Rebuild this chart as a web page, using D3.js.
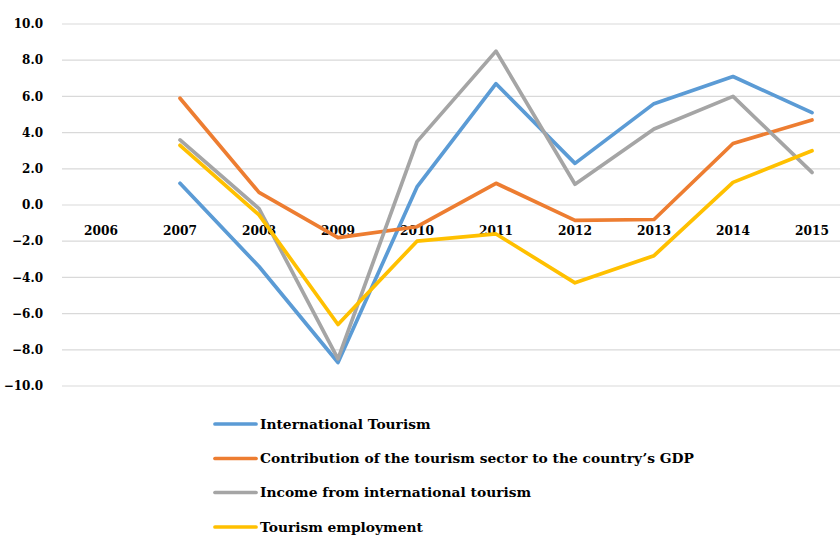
<!DOCTYPE html>
<html>
<head>
<meta charset="utf-8">
<script src="https://cdn.jsdelivr.net/npm/d3@7"></script>
<style>
  body { margin: 0; background: #fff; }
  svg text { font-family: "DejaVu Serif", "Liberation Serif", serif; font-weight: bold; fill: #000; }
</style>
</head>
<body>
<div id="chart"></div>
<script>
const years = ["2006", "2007", "2008", "2009", "2010", "2011", "2012", "2013", "2014", "2015"];
const yTicks = [-10, -8, -6, -4, -2, 0, 2, 4, 6, 8, 10];

const seriesNames = [
  "International Tourism",
  "Contribution of the tourism sector to the country\u2019s GDP",
  "Income from international tourism",
  "Tourism employment"
];
// null = no value for that year
const intlTourism   = [null, 1.2, -3.4, -8.7, 1.0, 6.7, 2.3, 5.6, 7.1, 5.1];
const gdpContrib    = [null, 5.9, 0.7, -1.8, -1.2, 1.2, -0.85, -0.8, 3.4, 4.7];
const intlIncome    = [null, 3.6, -0.2, -8.5, 3.5, 8.5, 1.15, 4.2, 6.0, 1.8];
const employment    = [null, 3.3, -0.55, -6.6, -2.0, -1.6, -4.3, -2.8, 1.25, 3.0];
const seriesValues = [intlTourism, gdpContrib, intlIncome, employment];
const colors = ["#5B9BD5", "#ED7D31", "#A5A5A5", "#FFC000"];

const width = 840, height = 536;

const svg = d3.select("#chart").append("svg")
  .attr("width", width)
  .attr("height", height);

const x = d3.scaleBand()
  .domain(years)
  .range([61.5, 851.5]);

const y = d3.scaleLinear()
  .domain([-10, 10])
  .range([386, 24]);

/** gridlines */
svg.append("g")
  .selectAll("line")
  .data(yTicks)
  .enter()
  .append("line")
  .attr("x1", 62)
  .attr("x2", width)
  .attr("y1", d => y(d))
  .attr("y2", d => y(d))
  .attr("stroke", "#D9D9D9")
  .attr("stroke-width", 1.2);

/** y labels */
svg.append("g")
  .selectAll("text")
  .data(yTicks)
  .enter()
  .append("text")
  .attr("x", 43)
  .attr("y", d => y(d))
  .attr("dy", "0.35em")
  .attr("text-anchor", "end")
  .style("font-size", "12px")
  .text(d => d3.format(".1f")(d));

/** x labels, sitting just under the zero line */
svg.append("g")
  .selectAll("text")
  .data(years)
  .enter()
  .append("text")
  .attr("x", d => x(d) + x.bandwidth() / 2)
  .attr("y", y(0) + 30)
  .attr("text-anchor", "middle")
  .style("font-size", "12.2px")
  .text(d => d);

const line = d3.line()
  .defined(d => d.v !== null)
  .x(d => x(d.year) + x.bandwidth() / 2)
  .y(d => y(d.v));

svg.append("g")
  .selectAll("path")
  .data(seriesValues)
  .enter()
  .append("path")
  .attr("d", vals => line(vals.map((v, i) => ({ year: years[i], v: v }))))
  .attr("fill", "none")
  .attr("stroke", (d, i) => colors[i])
  .attr("stroke-width", 3.7)
  .attr("stroke-linejoin", "round")
  .attr("stroke-linecap", "round");

/** legend */
const legendY = [424, 458.5, 492.5, 527];
const legend = svg.append("g")
  .selectAll("g")
  .data(seriesNames)
  .enter()
  .append("g")
  .attr("transform", (d, i) => "translate(0," + legendY[i] + ")");

legend.append("line")
  .attr("x1", 215)
  .attr("x2", 256)
  .attr("stroke", (d, i) => colors[i])
  .attr("stroke-width", 3.7)
  .attr("stroke-linecap", "round");

legend.append("text")
  .attr("x", 260)
  .attr("dy", "0.35em")
  .style("font-size", "13.8px")
  .text(d => d);
</script>
</body>
</html>
